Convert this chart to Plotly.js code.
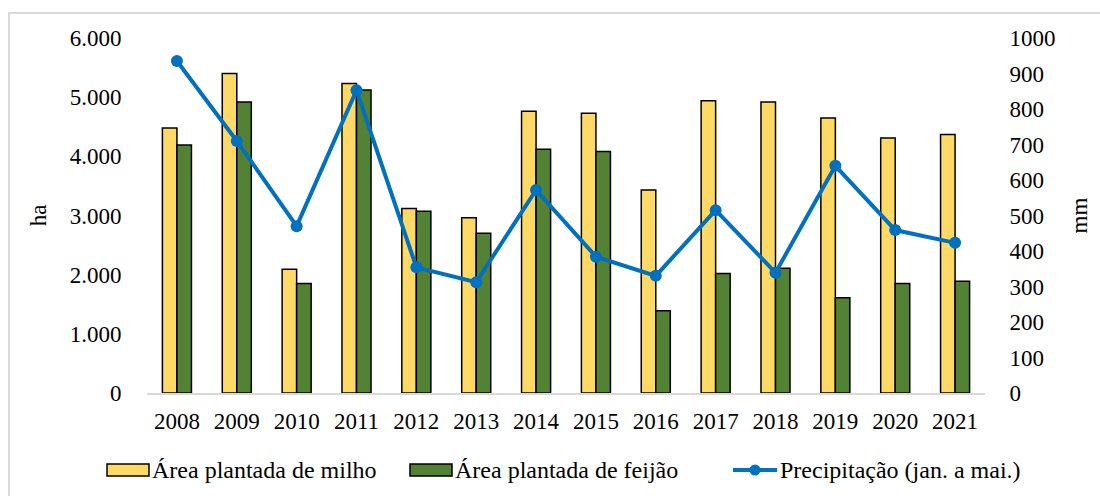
<!DOCTYPE html>
<html>
<head>
<meta charset="utf-8">
<script src="https://cdn.plot.ly/plotly-3.0.1.min.js"></script>
<style>
html,body{margin:0;padding:0;background:#fff;}
#wrap{position:relative;width:1100px;height:496px;overflow:hidden;}
#frame{position:absolute;left:8px;top:12px;width:1200px;height:600px;border-left:2px solid #d9d9d9;border-top:2px solid #d9d9d9;}
#chart{position:absolute;left:0;top:0;width:1100px;height:496px;}
</style>
</head>
<body>
<div id="wrap"><div id="frame"></div><div id="chart"></div></div>
<script>
const years = ['2008','2009','2010','2011','2012','2013','2014','2015','2016','2017','2018','2019','2020','2021'];
const milho = [4480,5400,2090,5230,3120,2960,4760,4730,3430,4940,4920,4650,4310,4370];
const feijao = [4190,4920,1850,5120,3070,2700,4120,4080,1390,2020,2110,1610,1850,1890];
const precip = [935,710,470,853,354,312,572,384,330,515,339,640,459,423];

const nameMilho = 'Área plantada de milho';
const nameFeijao = 'Área plantada de feijão';
const namePrecip = 'Precipitação (jan. a mai.)';

const FONT = '"Liberation Serif", "Times New Roman", serif';
const FS = 23;
const L = 147, T = 38, PW = 838, PH = 355;

const traces = [
  {type:'bar', name:nameMilho, x:years, y:milho, yaxis:'y',
   marker:{color:'#FFD966', line:{color:'#000000', width:1.5}}, showlegend:false},
  {type:'bar', name:nameFeijao, x:years, y:feijao, yaxis:'y',
   marker:{color:'#548235', line:{color:'#000000', width:1.5}}, showlegend:false},
  {type:'scatter', mode:'lines+markers', name:namePrecip, x:years, y:precip, yaxis:'y2',
   line:{color:'#0070C0', width:4}, marker:{color:'#0070C0', size:12}, showlegend:false}
];

function px2paperX(px){return (px-L)/PW;}
function px2paperY(py){return (T+PH-py)/PH;}
const legY = 470;
const shapes = [
  {type:'rect', xref:'paper', yref:'paper', x0:px2paperX(107), x1:px2paperX(149), y0:px2paperY(legY+6), y1:px2paperY(legY-6),
   fillcolor:'#FFD966', line:{color:'#000', width:1.5}},
  {type:'rect', xref:'paper', yref:'paper', x0:px2paperX(410), x1:px2paperX(452), y0:px2paperY(legY+6), y1:px2paperY(legY-6),
   fillcolor:'#548235', line:{color:'#000', width:1.5}},
  {type:'line', xref:'paper', yref:'paper', x0:px2paperX(733), x1:px2paperX(777), y0:px2paperY(legY), y1:px2paperY(legY),
   line:{color:'#0070C0', width:4}},
  {type:'circle', xref:'paper', yref:'paper', x0:px2paperX(749.5), x1:px2paperX(760.5), y0:px2paperY(legY+5.5), y1:px2paperY(legY-5.5),
   fillcolor:'#0070C0', line:{color:'#0070C0', width:0}}
];
const annFont = {family:FONT, size:24, color:'#000'};
const annotations = [
  {text:nameMilho, xref:'paper', yref:'paper', x:px2paperX(150), y:px2paperY(legY), xanchor:'left', yanchor:'middle', showarrow:false, font:annFont},
  {text:nameFeijao, xref:'paper', yref:'paper', x:px2paperX(453), y:px2paperY(legY), xanchor:'left', yanchor:'middle', showarrow:false, font:annFont},
  {text:namePrecip, xref:'paper', yref:'paper', x:px2paperX(778), y:px2paperY(legY), xanchor:'left', yanchor:'middle', showarrow:false, font:annFont}
];

const layout = {
  width:1100, height:496,
  margin:{l:L, r:1100-L-PW, t:T, b:496-T-PH, pad:0, autoexpand:false},
  paper_bgcolor:'rgba(0,0,0,0)', plot_bgcolor:'rgba(0,0,0,0)',
  separators:',.',
  font:{family:FONT, size:FS, color:'#000'},
  barmode:'group', bargap:0.515, bargroupgap:0,
  xaxis:{type:'category', range:[-0.5, years.length-0.5], automargin:false, showgrid:false, zeroline:false, showline:true, linecolor:'#d9d9d9', linewidth:1.5,
         ticks:'outside', ticklen:7, tickcolor:'rgba(0,0,0,0)', tickfont:{family:FONT, size:FS}},
  yaxis:{range:[0,6000], dtick:1000, tickformat:',d', automargin:false, showgrid:false, zeroline:false, showline:false,
         ticks:'outside', ticklen:20, tickcolor:'rgba(0,0,0,0)', tickfont:{family:FONT, size:FS},
         title:{text:'ha', font:{family:FONT, size:FS}, standoff:16}},
  yaxis2:{range:[0,1000], dtick:100, tickformat:'d', overlaying:'y', side:'right', automargin:false, showgrid:false, zeroline:false, showline:false,
          ticks:'outside', ticklen:19, tickcolor:'rgba(0,0,0,0)', tickfont:{family:FONT, size:FS},
          title:{text:'mm', font:{family:FONT, size:FS}, standoff:16}},
  shapes:shapes, annotations:annotations, showlegend:false
};
Plotly.newPlot('chart', traces, layout, {displayModeBar:false, staticPlot:true});
</script>
</body>
</html>
